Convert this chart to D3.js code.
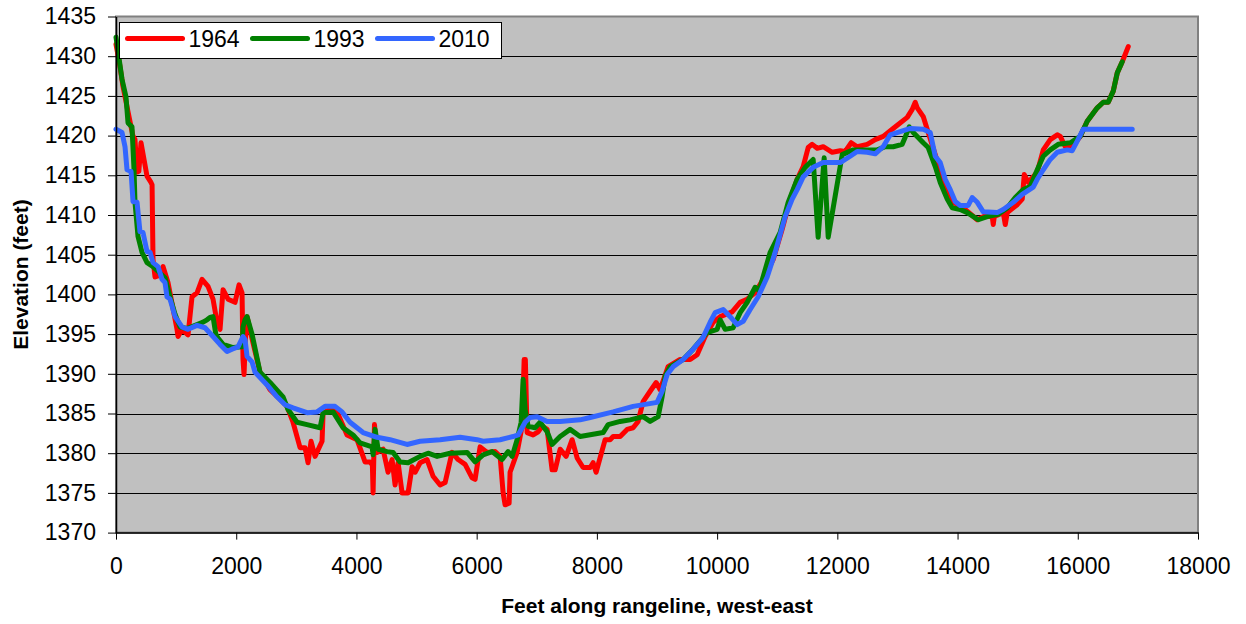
<!DOCTYPE html>
<html>
<head>
<meta charset="utf-8">
<script src="https://cdn.jsdelivr.net/npm/d3@7"></script>
<style>
  html, body { margin: 0; padding: 0; background: #ffffff; }
  svg { display: block; font-family: "Liberation Sans", Arial, sans-serif; }
</style>
</head>
<body>
<svg id="chart" width="1246" height="624"></svg>
<script>
// Rangeline survey profiles: [feet along rangeline, elevation in feet]
const seriesNames = ["1964", "1993", "2010"];
const seriesColors = ["#ff0000", "#008000", "#3366ff"];

const elev1964 = [
  [0,1431.5],[60,1429],[116,1426.2],[200,1423],[280,1420],[316,1419.5],[350,1415.4],[380,1415.5],
  [416,1419.1],[516,1414.9],[582,1414.1],[600,1413.8],[616,1404.4],[649,1402.2],[720,1402.4],[782,1403.5],
  [865,1401.5],[1015,1395.6],[1032,1394.7],[1098,1395.6],[1198,1394.9],[1265,1399.7],[1348,1400.2],
  [1431,1401.9],[1531,1401.0],[1614,1399.4],[1681,1396.5],[1731,1395.6],[1781,1400.6],[1864,1399.4],
  [1980,1399.0],[2047,1401.2],[2097,1400.2],[2113,1391.8],[2130,1389.9],[2150,1394],[2180,1397.2],
  [2260,1394.5],[2396,1390.2],[2563,1388.0],[2729,1386.8],[2845,1385.9],[2945,1383.9],[3062,1380.7],
  [3145,1380.7],[3195,1378.8],[3245,1381.5],[3311,1379.6],[3428,1381.5],[3445,1385.1],[3561,1385.5],
  [3678,1385.2],[3844,1382.3],[4010,1381.7],[4143,1378.9],[4227,1378.9],[4265,1378.5],[4277,1375.0],
  [4300,1383.6],[4340,1380.1],[4443,1380.5],[4526,1377.6],[4593,1379.2],[4643,1376.0],[4693,1378.8],
  [4759,1375.0],[4859,1375.0],[4926,1378.3],[4976,1377.6],[5059,1378.8],[5175,1379.2],[5275,1377.1],
  [5392,1376.0],[5475,1376.3],[5591,1380.1],[5691,1379.2],[5808,1378.6],[5924,1376.9],[5974,1376.7],
  [6057,1380.8],[6174,1380.1],[6307,1380.2],[6390,1379.6],[6440,1375.0],[6473,1373.5],[6540,1373.7],
  [6556,1377.6],[6673,1380.1],[6756,1383.4],[6790,1391.8],[6810,1391.8],[6839,1382.6],[6939,1382.3],
  [7023,1382.7],[7089,1383.4],[7172,1383.0],[7255,1377.9],[7305,1377.9],[7388,1380.5],[7488,1379.6],
  [7588,1381.7],[7671,1379.4],[7771,1378.2],[7888,1378.2],[7937,1378.8],[7987,1377.6],[8137,1381.7],
  [8220,1381.7],[8270,1382.1],[8387,1382.1],[8503,1383.0],[8603,1383.2],[8686,1384.0],[8769,1386.5],
  [8886,1387.8],[8986,1388.9],[9052,1388.0],[9185,1390.9],[9385,1391.8],[9552,1391.8],[9668,1392.4],
  [9801,1394.7],[9934,1396.5],[10051,1397.2],[10250,1397.8],[10383,1399.0],[10500,1399.4],[10633,1400.2],
  [10766,1401.9],[10933,1404.4],[11082,1408.2],[11215,1412.0],[11332,1414.5],[11432,1416.1],[11515,1418.5],
  [11582,1418.9],[11665,1418.4],[11765,1418.6],[11915,1417.9],[12048,1418.1],[12131,1418.0],[12231,1419.1],
  [12331,1418.6],[12497,1418.9],[12630,1419.5],[12763,1419.9],[12913,1420.8],[13013,1421.4],[13163,1422.3],
  [13246,1423.3],[13296,1424.2],[13329,1423.5],[13429,1422.4],[13512,1420.4],[13662,1416.8],[13762,1414.1],
  [13828,1413.0],[13928,1411.6],[14095,1410.9],[14328,1409.4],[14428,1409.8],[14577,1409.8],[14594,1408.8],
  [14611,1409.8],[14760,1410.3],[14794,1408.8],[14827,1410.3],[14993,1411.3],[15076,1412.0],[15110,1415.1],
  [15176,1414.1],[15326,1415.4],[15426,1418.2],[15542,1419.5],[15659,1420.1],[15709,1419.9],[15792,1418.6],
  [15908,1418.6],[16041,1419.9],[16157,1421.8],[16324,1423.5],[16424,1424.2],[16507,1424.2],[16590,1425.6],
  [16657,1427.9],[16740,1429.3],[16840,1431.2]
];

const elev1993 = [
  [0,1432.4],[100,1427.1],[166,1424.9],[200,1421.6],[266,1421.1],[300,1415.7],[316,1411.6],[366,1407.3],
  [433,1405.3],[516,1404.0],[616,1403.5],[815,1402.1],[899,1399.7],[982,1397.5],[1065,1395.9],[1181,1395.7],
  [1348,1396.2],[1448,1396.5],[1514,1396.8],[1564,1397.1],[1614,1397.2],[1660,1395.0],[1697,1394.5],
  [1781,1393.7],[1947,1393.3],[2097,1393.4],[2113,1395.9],[2147,1396.8],[2180,1397.2],[2263,1395.0],
  [2396,1390.2],[2563,1388.9],[2779,1387.1],[2862,1385.5],[3012,1383.9],[3178,1383.6],[3395,1383.2],
  [3445,1385.1],[3611,1385.2],[3777,1383.2],[3944,1382.3],[4060,1381.3],[4260,1380.8],[4277,1379.8],
  [4310,1383.0],[4360,1380.5],[4510,1380.2],[4610,1380.1],[4726,1378.9],[4859,1378.8],[5059,1379.6],
  [5192,1380.0],[5342,1379.6],[5558,1380.0],[5841,1380.1],[5974,1378.9],[6107,1379.8],[6257,1380.2],
  [6423,1379.2],[6523,1380.2],[6590,1379.6],[6673,1381.7],[6740,1383.9],[6773,1389.3],[6806,1385.5],
  [6856,1383.4],[6972,1383.2],[7056,1383.9],[7172,1382.7],[7255,1381.1],[7388,1382.1],[7555,1383.0],
  [7721,1382.1],[8104,1382.6],[8187,1383.6],[8387,1384.0],[8553,1384.2],[8769,1384.6],[8886,1384.0],
  [9019,1384.6],[9085,1387.1],[9135,1389.7],[9219,1390.9],[9435,1391.8],[9601,1393.1],[9834,1395.2],
  [10001,1395.6],[10051,1396.8],[10134,1395.6],[10267,1395.8],[10383,1397.7],[10500,1399.0],[10633,1400.9],
  [10700,1400.5],[10883,1405.3],[11049,1407.8],[11182,1411.6],[11332,1414.5],[11465,1416.0],[11598,1417.0],
  [11681,1407.2],[11781,1417.2],[11848,1407.2],[12081,1417.6],[12264,1418.2],[12497,1418.2],[12663,1418.2],
  [12796,1418.6],[12929,1418.6],[13079,1418.9],[13129,1419.8],[13196,1421.1],[13263,1420.4],[13429,1419.1],
  [13512,1418.5],[13629,1416.1],[13712,1414.1],[13828,1412.0],[13911,1410.9],[14044,1410.7],[14161,1410.3],
  [14344,1409.4],[14494,1409.8],[14677,1410.1],[14827,1410.9],[14960,1412.2],[15093,1413.2],[15209,1413.6],
  [15326,1415.7],[15426,1417.4],[15542,1418.2],[15675,1418.9],[15875,1419.1],[16041,1419.9],[16157,1421.8],
  [16324,1423.5],[16424,1424.2],[16507,1424.2],[16590,1425.6],[16657,1427.9],[16740,1429.3]
];

const elev2010 = [
  [0,1420.8],[100,1420.4],[150,1418.6],[183,1415.7],[250,1415.5],[283,1411.7],[350,1411.6],[399,1407.9],
  [449,1407.8],[516,1405.4],[566,1405.3],[616,1404.0],[699,1403.5],[765,1401.9],[815,1401.5],[849,1399.7],
  [899,1399.4],[982,1397.2],[1098,1395.9],[1198,1395.6],[1348,1396.1],[1481,1395.8],[1614,1394.7],
  [1731,1393.7],[1847,1392.8],[1930,1393.1],[2030,1393.4],[2113,1394.7],[2147,1394.3],[2180,1392.2],
  [2263,1391.5],[2313,1390.2],[2513,1388.6],[2679,1387.1],[2812,1386.1],[2945,1385.7],[3178,1385.1],
  [3345,1385.2],[3478,1385.9],[3644,1385.9],[3761,1385.2],[3894,1383.9],[4110,1382.6],[4343,1382.0],
  [4559,1381.7],[4842,1381.1],[5059,1381.5],[5392,1381.7],[5724,1382.0],[6007,1381.7],[6107,1381.5],
  [6390,1381.7],[6606,1382.1],[6690,1382.3],[6806,1383.9],[6889,1384.5],[7006,1384.6],[7172,1384.0],
  [7388,1384.0],[7721,1384.2],[7888,1384.5],[8270,1385.2],[8603,1385.9],[9002,1386.4],[9085,1387.8],
  [9169,1389.9],[9269,1390.9],[9435,1391.8],[9601,1393.1],[9768,1394.6],[9884,1396.5],[9968,1397.7],
  [10101,1398.1],[10217,1397.2],[10334,1396.2],[10433,1396.6],[10550,1398.1],[10683,1399.7],[10833,1402.2],
  [10966,1405.3],[11132,1409.8],[11249,1412.0],[11332,1413.2],[11432,1414.8],[11598,1416.0],[11765,1416.6],
  [12048,1416.6],[12214,1417.4],[12331,1418.0],[12497,1417.9],[12630,1417.7],[12763,1418.6],[12880,1420.1],
  [13046,1420.5],[13213,1420.9],[13429,1420.8],[13545,1420.4],[13629,1417.4],[13712,1416.6],[13795,1414.5],
  [13878,1413.2],[13961,1411.7],[14044,1411.2],[14177,1411.2],[14244,1412.2],[14328,1411.6],[14428,1410.4],
  [14660,1410.3],[14760,1410.7],[14927,1411.6],[15076,1412.6],[15259,1413.5],[15326,1414.5],[15426,1415.7],
  [15542,1417.0],[15659,1417.9],[15825,1418.2],[15908,1418.1],[15991,1419.3],[16091,1420.8],[16906,1420.8]
];

const xTicks = [0, 2000, 4000, 6000, 8000, 10000, 12000, 14000, 16000, 18000];
const yTicks = [1370, 1375, 1380, 1385, 1390, 1395, 1400, 1405, 1410, 1415, 1420, 1425, 1430, 1435];

const xTitle = "Feet along rangeline, west-east";
const yTitle = "Elevation (feet)";

// ---- layout ----
const plot = { left: 116, right: 1198, top: 16.5, bottom: 532.6 };

const svg = d3.select("#chart");

const x = d3.scaleLinear().domain([0, 18000]).range([plot.left, plot.right]);
const y = d3.scaleLinear().domain([1370, 1435]).range([plot.bottom, plot.top]);

// plot background
svg.append("rect")
  .attr("x", plot.left).attr("y", plot.top)
  .attr("width", plot.right - plot.left).attr("height", plot.bottom - plot.top)
  .attr("fill", "#c0c0c0");

// horizontal gridlines
svg.append("g")
  .selectAll("line")
  .data(yTicks.filter(v => v > 1370 && v < 1435))
  .join("line")
  .attr("x1", plot.left).attr("x2", plot.right)
  .attr("y1", d => Math.round(y(d)) + 0.5).attr("y2", d => Math.round(y(d)) + 0.5)
  .attr("stroke", "#000").attr("stroke-width", 1);

// plot frame
svg.append("rect")
  .attr("x", plot.left).attr("y", plot.top)
  .attr("width", plot.right - plot.left).attr("height", plot.bottom - plot.top)
  .attr("fill", "none").attr("stroke", "#808080").attr("stroke-width", 2);

// profile lines
const line = d3.line().x(d => x(d[0])).y(d => y(d[1]));
const allSeries = [elev1964, elev1993, elev2010];
svg.append("g")
  .selectAll("path")
  .data(allSeries)
  .join("path")
  .attr("d", d => line(d))
  .attr("fill", "none")
  .attr("stroke", (d, i) => seriesColors[i])
  .attr("stroke-width", 5)
  .attr("stroke-linejoin", "round")
  .attr("stroke-linecap", "round");

// axes
const yAxis = d3.axisLeft(y).tickValues(yTicks).tickSize(8).tickSizeOuter(0).tickPadding(12)
  .tickFormat(d3.format("d"));
const gy = svg.append("g").attr("transform", `translate(${plot.left},0)`).call(yAxis);

const xAxis = d3.axisBottom(x).tickValues(xTicks).tickSize(7).tickSizeOuter(0).tickPadding(18)
  .tickFormat(d3.format("d"));
const gx = svg.append("g").attr("transform", `translate(0,${plot.bottom})`).call(xAxis);

[gx, gy].forEach(g => {
  g.select(".domain").attr("stroke", "#000").attr("stroke-width", 1.5);
  g.selectAll(".tick line").attr("stroke", "#000").attr("stroke-width", 1);
  g.selectAll(".tick text")
    .attr("fill", "#000")
    .style("font-size", "23px")
    .style("font-family", "'Liberation Sans', Arial, sans-serif");
});

// axis titles
svg.append("text")
  .attr("x", (plot.left + plot.right) / 2)
  .attr("y", 613)
  .attr("text-anchor", "middle")
  .style("font-size", "21px")
  .style("font-weight", "bold")
  .text(xTitle);

svg.append("text")
  .attr("transform", `translate(28,${(plot.top + plot.bottom) / 2}) rotate(-90)`)
  .attr("text-anchor", "middle")
  .style("font-size", "21px")
  .style("font-weight", "bold")
  .text(yTitle);

// legend
const legend = svg.append("g").attr("transform", "translate(119.5,22.5)");
legend.append("rect")
  .attr("width", 382).attr("height", 36)
  .attr("fill", "#fff").attr("stroke", "#000").attr("stroke-width", 1);
const item = legend.selectAll("g.item")
  .data(seriesNames)
  .join("g")
  .attr("class", "item")
  .attr("transform", (d, i) => `translate(${8 + i * 125},0)`);
item.append("line")
  .attr("x1", 0).attr("x2", 55)
  .attr("y1", 16).attr("y2", 16)
  .attr("stroke", (d, i) => seriesColors[i])
  .attr("stroke-width", 5)
  .attr("stroke-linecap", "round");
item.append("text")
  .attr("x", 61).attr("y", 24.5)
  .style("font-size", "23px")
  .text(d => d);
</script>
</body>
</html>
